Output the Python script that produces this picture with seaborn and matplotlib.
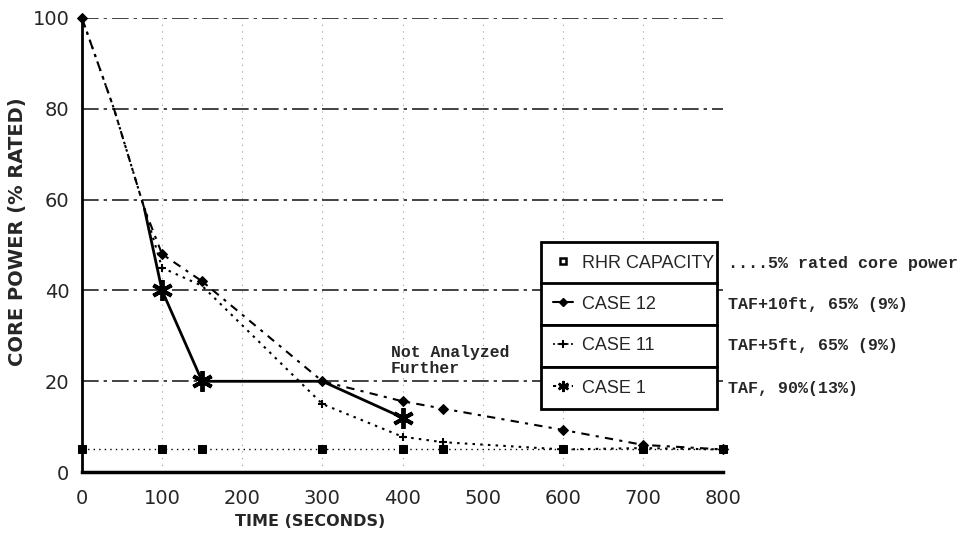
import matplotlib
matplotlib.use("Agg")
import matplotlib.pyplot as plt
from matplotlib.lines import Line2D
import seaborn as sns
import numpy as np

# ---- data ----
rhr_t = [0, 100, 150, 300, 400, 450, 600, 700, 800]
rhr_p = [5, 5, 5, 5, 5, 5, 5, 5, 5]

case12_t = [0, 40, 78, 100, 150, 300, 400, 450, 600, 700, 800]
case12_p = [100, 80, 58, 48, 42, 20, 15.6, 14, 9.3, 6, 5]

case11_t = [0, 40, 78, 100, 150, 300, 400, 450, 600, 700, 800]
case11_p = [100, 80, 58, 45, 41, 15, 7.8, 6.6, 5, 5.3, 5]

case1_t = [78, 100, 150, 300, 400]
case1_p = [58, 40, 20, 20, 12]

legend_labels = ["RHR CAPACITY", "CASE 12", "CASE 11", "CASE 1"]
notes = ["....5% rated core power", "TAF+10ft, 65% (9%)", "TAF+5ft, 65% (9%)", "TAF, 90%(13%)"]
x_ticks = [0, 100, 200, 300, 400, 500, 600, 700, 800]
y_ticks = [0, 20, 40, 60, 80, 100]

sns.set_style("white")
plt.rcParams['font.family'] = ['DejaVu Sans']

fig = plt.figure(figsize=(9.63, 5.39), dpi=100)
ax = fig.add_axes([0.085, 0.124, 0.666, 0.843])

sns.lineplot(x=rhr_t, y=rhr_p, ax=ax, color='black', linestyle=(0, (1, 3)), lw=1,
             marker='s', markersize=6, markeredgecolor='black', markerfacecolor='black',
             clip_on=False, legend=False)
sns.lineplot(x=case12_t, y=case12_p, ax=ax, color='black', linestyle=(0, (4, 3, 1.5, 3)), lw=1.5,
             marker='D', markersize=5, markeredgecolor='black', markerfacecolor='black',
             markevery=[0, 3, 4, 5, 6, 7, 8, 9, 10], clip_on=False, legend=False)
sns.lineplot(x=case11_t, y=case11_p, ax=ax, color='black', linestyle=(0, (1.2, 2.5)), lw=1.5,
             marker='+', markersize=6, markeredgewidth=1.5, markeredgecolor='black',
             markevery=[3, 5, 6, 7, 8, 9], clip_on=False, legend=False)
sns.lineplot(x=case1_t, y=case1_p, ax=ax, color='black', linestyle='-', lw=2,
             marker=(6, 2, 0), markersize=15, markeredgewidth=2.8, markeredgecolor='black',
             markevery=[1, 2, 4], clip_on=False, legend=False)

ax.set_xlim(0, 800)
ax.set_ylim(0, 100)
ax.set_xticks(x_ticks)
ax.set_yticks(y_ticks)
ax.set_xticklabels([str(v) for v in x_ticks], fontsize=14)
ax.set_yticklabels([str(v) for v in y_ticks], fontsize=14)
ax.tick_params(axis='y', direction='out', length=7, width=2, pad=2, color='black')
ax.tick_params(axis='x', direction='out', length=8, width=1.5, pad=4, color='black')

for s in ['top', 'right']:
    ax.spines[s].set_visible(False)
ax.spines['left'].set_linewidth(2)
ax.spines['bottom'].set_linewidth(2.5)
ax.spines['left'].set_color('black')
ax.spines['bottom'].set_color('black')

ax.yaxis.grid(True, linestyle=(0, (10, 3, 2, 3)), color='#222222', lw=1.2)
ax.xaxis.grid(True, linestyle=(0, (1, 5)), color='#999999', lw=0.8)
ax.set_axisbelow(True)

ax.set_xlabel("TIME (SECONDS)", fontsize=11.5, fontweight='bold')
ax.xaxis.set_label_coords(0.356, -0.092)
ax.set_ylabel("CORE POWER (% RATED)", fontsize=14, fontweight='bold')
ax.yaxis.set_label_coords(-0.086, 0.53)

# legend rows (proxy handles, small markers as in the original key)
handles = [
    Line2D([], [], color='black', lw=0, marker='s', markersize=5,
           markerfacecolor='white', markeredgecolor='black', markeredgewidth=1.8),
    Line2D([], [], color='black', lw=1.5, marker='D', markersize=4.5),
    Line2D([], [], color='black', lw=1.2, linestyle=(0, (1.2, 1.5)), marker='+',
           markersize=6, markeredgewidth=1.5),
    Line2D([], [], color='black', lw=1.5, linestyle=(0, (1.5, 1.5)), marker=(6, 2, 0),
           markersize=8, markeredgewidth=1.8),
]
row_y = [0.460, 0.370, 0.278, 0.185]
legs = []
for h, lab, yc in zip(handles, legend_labels, row_y):
    leg = ax.legend(handles=[h], labels=[lab], loc='center left',
                    bbox_to_anchor=(0.716, yc, 0.275, 0), mode='expand',
                    frameon=True, fancybox=False, edgecolor='black', framealpha=1,
                    borderpad=0.68, borderaxespad=0, handlelength=1.1, handletextpad=0.5,
                    prop={'family': 'Liberation Sans', 'size': 13})
    leg.get_frame().set_linewidth(2)
    legs.append(leg)
for leg in legs[:-1]:
    ax.add_artist(leg)

for note, yc in zip(notes, row_y):
    ax.text(1.008, yc, note, transform=ax.transAxes, ha='left', va='center',
            fontsize=12, fontfamily='Liberation Mono', fontweight='bold')

ax.text(385, 24.5, "Not Analyzed\nFurther", ha='left', va='center',
        fontsize=11.8, fontfamily='Liberation Mono', fontweight='bold', linespacing=1.1)

fig.savefig("out.png", dpi=100)
